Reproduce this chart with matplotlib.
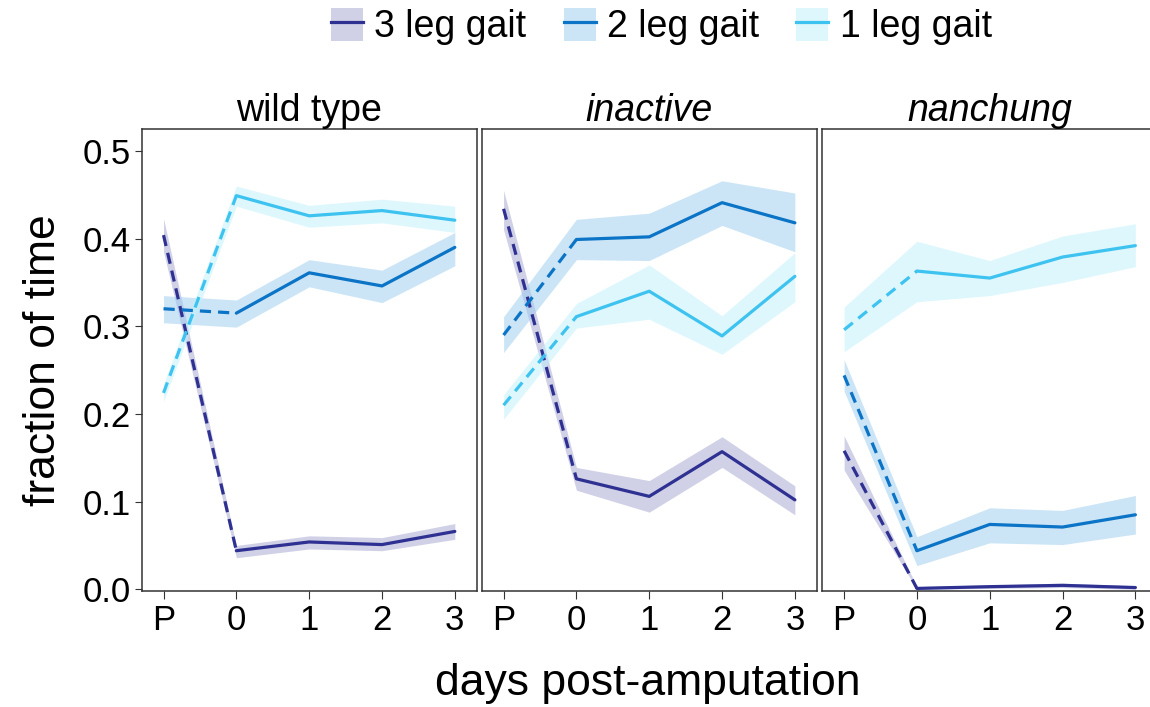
import matplotlib
matplotlib.use("Agg")
import matplotlib.pyplot as plt
from matplotlib.patches import Patch
from matplotlib.lines import Line2D

plt.rcParams['font.family'] = ['Liberation Sans', 'DejaVu Sans']

# x positions (P = pre-amputation) and their labels
days = [-1, 0, 1, 2, 3]
day_labels = ['P', '0', '1', '2', '3']

panels = ['wild type', 'inactive', 'nanchung']
gaits = ['3 leg gait', '2 leg gait', '1 leg gait']

# wild type: mean, lower, upper
wt_3 = [0.404, 0.044, 0.054, 0.051, 0.066]
wt_3_lo = [0.385, 0.036, 0.046, 0.044, 0.057]
wt_3_hi = [0.423, 0.050, 0.061, 0.059, 0.075]
wt_2 = [0.320, 0.315, 0.361, 0.346, 0.390]
wt_2_lo = [0.304, 0.299, 0.345, 0.327, 0.369]
wt_2_hi = [0.335, 0.330, 0.376, 0.364, 0.407]
wt_1 = [0.224, 0.449, 0.426, 0.432, 0.421]
wt_1_lo = [0.214, 0.437, 0.413, 0.418, 0.407]
wt_1_hi = [0.234, 0.460, 0.438, 0.445, 0.437]

# inactive
iav_3 = [0.434, 0.126, 0.106, 0.157, 0.102]
iav_3_lo = [0.410, 0.113, 0.088, 0.139, 0.085]
iav_3_hi = [0.455, 0.139, 0.124, 0.174, 0.118]
iav_2 = [0.290, 0.399, 0.402, 0.441, 0.418]
iav_2_lo = [0.270, 0.376, 0.375, 0.415, 0.385]
iav_2_hi = [0.311, 0.422, 0.429, 0.466, 0.452]
iav_1 = [0.210, 0.311, 0.340, 0.289, 0.357]
iav_1_lo = [0.194, 0.298, 0.308, 0.268, 0.328]
iav_1_hi = [0.222, 0.326, 0.370, 0.312, 0.384]

# nanchung
nan_3 = [0.158, 0.001, 0.003, 0.0045, 0.002]
nan_3_lo = [0.136, 0.000, 0.001, 0.002, 0.000]
nan_3_hi = [0.175, 0.003, 0.005, 0.007, 0.004]
nan_2 = [0.244, 0.044, 0.074, 0.071, 0.085]
nan_2_lo = [0.226, 0.027, 0.053, 0.051, 0.063]
nan_2_hi = [0.262, 0.060, 0.093, 0.090, 0.107]
nan_1 = [0.296, 0.363, 0.355, 0.379, 0.392]
nan_1_lo = [0.271, 0.328, 0.335, 0.350, 0.368]
nan_1_hi = [0.322, 0.397, 0.375, 0.403, 0.417]

series = [
    [(wt_3, wt_3_lo, wt_3_hi), (wt_2, wt_2_lo, wt_2_hi), (wt_1, wt_1_lo, wt_1_hi)],
    [(iav_3, iav_3_lo, iav_3_hi), (iav_2, iav_2_lo, iav_2_hi), (iav_1, iav_1_lo, iav_1_hi)],
    [(nan_3, nan_3_lo, nan_3_hi), (nan_2, nan_2_lo, nan_2_hi), (nan_1, nan_1_lo, nan_1_hi)],
]

line_cols = ['#2E3192', '#0B74C6', '#3EC3F0']
band_cols = ['#A3A3D1', '#99CDEF', '#BFF1FB']
band_alpha = 0.5
lw = 2.3

fig = plt.figure(figsize=(11.5, 7.07), dpi=100)
bottom, height = 0.164, 0.6535
lefts = [0.1232, 0.4189, 0.7150]
width = 0.2913

for i, name in enumerate(panels):
    ax = fig.add_axes([lefts[i], bottom, width, height])
    for g in range(3):
        mean, lo, hi = series[i][g]
        ax.fill_between(days, lo, hi, color=band_cols[g], alpha=band_alpha, lw=0)
    for g in range(3):
        mean, lo, hi = series[i][g]
        # dashed from P to day 0, solid afterwards
        ax.plot(days[:2], mean[:2], color=line_cols[g], lw=lw, ls=(0, (3.5, 2.2)))
        ax.plot(days[1:], mean[1:], color=line_cols[g], lw=lw, solid_capstyle='round')
    ax.set_xlim(-1.3, 3.3)
    ax.set_ylim(-0.002, 0.525)
    ax.set_xticks(days)
    ax.set_xticklabels(day_labels)
    ax.set_yticks([0.0, 0.1, 0.2, 0.3, 0.4, 0.5])
    if i == 0:
        ax.set_yticklabels(['0.0', '0.1', '0.2', '0.3', '0.4', '0.5'])
        ax.set_ylabel('fraction of time', fontsize=32, labelpad=13)
        ax.tick_params(axis='y', length=5, color='#333333', labelsize=25, pad=3)
    else:
        ax.tick_params(axis='y', left=False, labelleft=False)
    ax.tick_params(axis='x', length=6, color='#333333', labelsize=25, pad=3)
    for s in ax.spines.values():
        s.set_color('#333333')
        s.set_linewidth(1.1)
    style = 'normal' if i == 0 else 'italic'
    ax.set_title(name, fontsize=27, style=style, pad=6)

fig.text(0.5635, 0.033, 'days post-amputation', ha='center', va='center', fontsize=32)

handles = []
for g in range(3):
    p = Patch(facecolor=band_cols[g], alpha=band_alpha, edgecolor='none')
    l = Line2D([], [], color=line_cols[g], lw=lw)
    handles.append((p, l))
fig.legend(handles, gaits, loc='upper center', bbox_to_anchor=(0.575, 1.037), ncol=3,
           frameon=False, fontsize=27, handlelength=0.85, handleheight=1.0,
           handletextpad=0.3, columnspacing=1.0)

fig.savefig('out.png', dpi=100)
